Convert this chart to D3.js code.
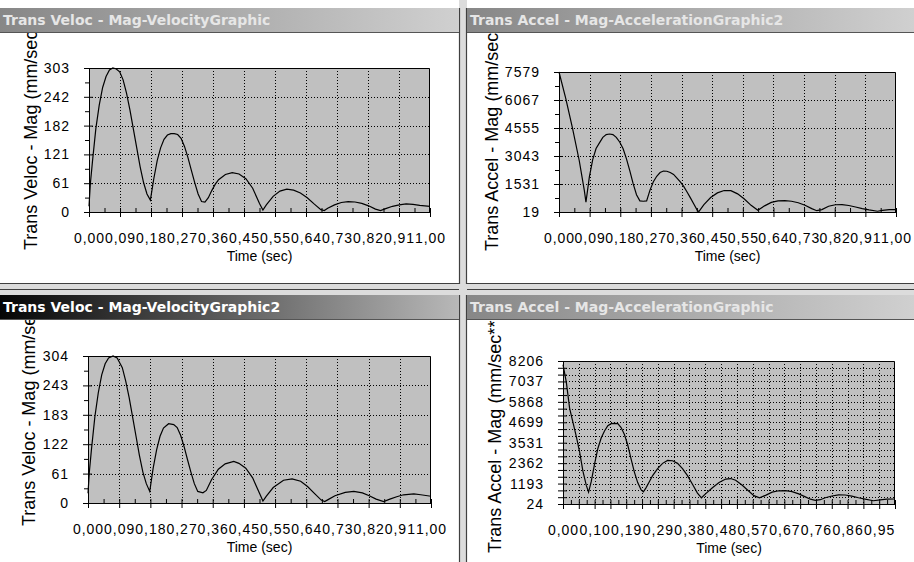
<!DOCTYPE html>
<html>
<head>
<meta charset="utf-8">
<script src="https://cdn.jsdelivr.net/npm/d3@7"></script>
<style>
  body { margin: 0; background: #fff; }
  svg { display: block; }
  .tick text { font-family: "Liberation Sans", Arial, sans-serif; font-size: 14px; letter-spacing: 1px; fill: #000; }
</style>
</head>
<body>
<svg width="914" height="562"></svg>
<script>
// ---- data ----
const xLabels11 = ["0,00","0,09","0,18","0,27","0,36","0,45","0,55","0,64","0,73","0,82","0,91","1,00"];
const xLabels21 = ["0,00","0,10","0,19","0,29","0,38","0,48","0,57","0,67","0,76","0,86","0,95"];

const velo1YLabels = ["0","61","121","182","242","303"];
const velo2YLabels = ["0","61","122","183","243","304"];
const accel2YLabels = ["19","1531","3043","4555","6067","7579"];
const accel1YLabels = ["24","1193","2362","3531","4699","5868","7037","8206"];

// Trans Veloc - Mag-VelocityGraphic
const velo1T = [0,0.004,0.01,0.02,0.03,0.04,0.05,0.06,0.07,0.08,0.09,0.1,0.11,0.12,0.13,0.14,0.15,0.16,0.17,0.18,
  0.19,0.2,0.21,0.22,0.23,0.24,0.25,0.26,0.27,0.28,0.29,0.3,0.31,0.32,0.33,0.34,0.35,0.36,0.37,0.38,0.4,0.42,0.44,0.46,0.48,0.5,0.51,
  0.52,0.54,0.56,0.58,0.6,0.62,0.64,0.66,0.68,0.69,0.7,0.72,0.74,0.76,0.78,0.8,0.82,0.84,0.855,0.87,0.89,0.91,0.93,0.95,0.97,1.0];
const velo1V = [12,60,105,175,225,262,285,299,303,301,295,278,250,215,175,135,95,62,38,25,
  70,108,135,153,162,165,165,163,155,138,115,88,62,38,22,21,30,45,58,68,79,83,80,70,50,18,4,
  15,33,44,48,46,40,30,17,5,3,8,15,20,22,21,18,13,6,3,7,12,15,17,16,14,12];

// Trans Accel - Mag-AccelerationGraphic2
const accel2T = [0,0.02,0.04,0.06,0.075,0.08,0.09,0.1,0.11,0.12,0.13,0.14,0.15,0.16,0.17,0.18,0.19,0.2,0.21,0.22,0.23,0.24,0.25,0.26,
  0.27,0.28,0.29,0.3,0.31,0.32,0.33,0.34,0.35,0.36,0.37,0.38,0.39,0.4,0.41,0.415,0.43,0.45,0.47,0.49,0.51,0.53,0.55,0.57,0.59,
  0.61,0.63,0.65,0.67,0.69,0.71,0.73,0.75,0.765,0.78,0.8,0.82,0.84,0.86,0.88,0.9,0.92,0.945,0.96,0.98,1.0];
const accel2V = [7579,6150,4550,2800,1200,550,1900,2850,3450,3750,4050,4200,4230,4200,4050,3800,3450,2900,2250,1550,950,620,600,620,
  1200,1650,1950,2150,2230,2220,2150,2050,1850,1650,1400,1100,780,450,120,40,420,800,1050,1180,1170,1000,720,380,110,
  350,540,620,630,600,520,380,200,90,150,330,410,420,370,290,200,130,60,110,150,150];

// Trans Veloc - Mag-VelocityGraphic2
const velo2T = [0,0.004,0.01,0.02,0.03,0.04,0.05,0.06,0.073,0.085,0.1,0.11,0.12,0.13,0.14,0.15,0.16,0.17,0.18,
  0.19,0.2,0.21,0.22,0.235,0.25,0.26,0.27,0.28,0.29,0.3,0.31,0.32,0.335,0.345,0.36,0.38,0.4,0.425,0.44,0.46,0.48,0.5,0.51,
  0.52,0.54,0.57,0.595,0.62,0.64,0.66,0.68,0.69,0.7,0.72,0.75,0.775,0.8,0.82,0.84,0.862,0.88,0.9,0.92,0.95,0.97,1.0];
const velo2V = [20,65,110,178,228,265,288,300,304,300,280,252,218,178,138,98,64,40,24,
  72,110,138,155,164,162,156,140,117,90,64,40,24,21,26,48,70,81,86,82,72,52,20,4,
  14,32,47,50,45,34,20,6,3,7,15,22,24,21,15,8,3,8,13,17,19,17,14];

// Trans Accel - Mag-AccelerationGraphic
const accel1T = [0,0.01,0.02,0.03,0.04,0.05,0.06,0.07,0.077,0.085,0.095,0.105,0.115,0.125,0.135,0.145,0.155,0.165,0.175,0.185,0.195,
  0.205,0.215,0.225,0.235,0.242,0.25,0.26,0.27,0.285,0.3,0.315,0.33,0.345,0.36,0.375,0.39,0.405,0.417,0.43,0.45,0.47,0.49,0.505,
  0.52,0.54,0.56,0.575,0.592,0.61,0.63,0.65,0.67,0.69,0.71,0.73,0.745,0.76,0.775,0.79,0.81,0.83,0.85,0.87,0.89,0.91,0.935,0.955,0.975,1.0];
const accel1V = [8000,7000,5500,4700,3900,3000,1900,1100,700,1300,2300,3200,3800,4200,4500,4620,4640,4620,4400,4000,3400,
  2600,1850,1250,850,720,950,1300,1650,2050,2350,2520,2500,2350,2050,1650,1150,650,380,620,950,1250,1450,1480,
  1380,1100,750,500,380,520,700,780,790,730,600,430,300,230,270,380,480,550,540,470,380,300,210,260,300,310];

// ---- page ----
const svg = d3.select("svg");
const defs = svg.append("defs");

function gradient(id, c0, c1) {
  const lg = defs.append("linearGradient").attr("id", id);
  lg.append("stop").attr("offset", "0%").attr("stop-color", c0);
  lg.append("stop").attr("offset", "100%").attr("stop-color", c1);
}
gradient("inactive", "#878787", "#d0d0d0");
gradient("active", "#050505", "#b8b8b8");

// splitter bands
svg.append("rect").attr("x", 459).attr("y", 0).attr("width", 8).attr("height", 562).attr("fill", "#dcdcdc");
svg.append("rect").attr("x", 0).attr("y", 283).attr("width", 914).attr("height", 12).attr("fill", "#dcdcdc");
[[459.5, 8, 459.5, 284], [466.5, 8, 466.5, 284], [459.5, 295, 459.5, 562], [466.5, 295, 466.5, 562]].forEach(l => {
  svg.append("line").attr("x1", l[0]).attr("y1", l[1]).attr("x2", l[2]).attr("y2", l[3])
    .attr("stroke", "#404040").attr("stroke-width", 1.2);
});
[[0, 283.5, 459, 283.5], [467, 283.5, 914, 283.5], [0, 289.5, 459, 289.5], [467, 289.5, 914, 289.5]].forEach(l => {
  svg.append("line").attr("x1", l[0]).attr("y1", l[1]).attr("x2", l[2]).attr("y2", l[3])
    .attr("stroke", "#404040").attr("stroke-width", 1.2);
});

function drawPanel(p) {
  const g = svg.append("g");
  const clipId = "clip" + p.id;
  defs.append("clipPath").attr("id", clipId).append("rect")
    .attr("x", p.left).attr("y", p.barY + 25).attr("width", p.right - p.left).attr("height", p.bottom - p.barY - 25);

  // title bar
  g.append("rect").attr("x", p.left).attr("y", p.barY).attr("width", p.right - p.left).attr("height", 24)
    .attr("fill", p.active ? "url(#active)" : "url(#inactive)");
  g.append("line").attr("x1", p.left).attr("x2", p.right).attr("y1", p.barY + 24.5).attr("y2", p.barY + 24.5)
    .attr("stroke", "#555");
  g.append("text").attr("x", p.left + 3).attr("y", p.barY + 17)
    .attr("font-family", "DejaVu Sans, Verdana, sans-serif").attr("font-weight", "bold").attr("font-size", 14)
    .attr("fill", p.active ? "#fff" : "#e6e6e6").text(p.title);

  const x = d3.scaleLinear().domain([0, 1]).range([p.x0, p.x1]);
  const y = d3.scaleLinear().domain([+p.yLabels[0], +p.yLabels[p.yLabels.length - 1]]).range([p.y1, p.y0]);

  const xMajor = d3.range(p.xDiv + 1).map(i => i / p.xDiv);
  const xMinor = d3.range(p.xDiv).map(i => (i + 0.5) / p.xDiv);
  const yStep = (y.domain()[1] - y.domain()[0]) / p.yDiv;
  const yMajor = d3.range(p.yDiv + 1).map(i => y.domain()[0] + i * yStep);
  const yMinor = p.yMinor ? d3.range(p.yDiv).map(i => y.domain()[0] + (i + 0.5) * yStep) : [];

  // plot background
  g.append("rect").attr("x", p.x0).attr("y", p.y0).attr("width", p.x1 - p.x0).attr("height", p.y1 - p.y0)
    .attr("fill", "#c0c0c0");

  // dotted grid
  g.append("g").selectAll("line").data(xMajor.slice(1, -1)).join("line")
    .attr("x1", d => Math.round(x(d)) + 0.5).attr("x2", d => Math.round(x(d)) + 0.5)
    .attr("y1", p.y0).attr("y2", p.y1)
    .attr("stroke", "#000").attr("stroke-dasharray", "1,2");
  g.append("g").selectAll("line").data(yMajor.slice(1, -1)).join("line")
    .attr("y1", d => Math.round(y(d)) + 0.5).attr("y2", d => Math.round(y(d)) + 0.5)
    .attr("x1", p.x0).attr("x2", p.x1)
    .attr("stroke", "#000").attr("stroke-dasharray", "1,2");

  // frame top/right
  g.append("path").attr("d", `M${p.x0},${p.y0 + 0.5}H${p.x1 - 0.5}V${p.y1}`)
    .attr("fill", "none").attr("stroke", "#000");

  // x axis
  const xAxis = d3.axisBottom(x).tickValues(xMajor).tickSizeOuter(0).tickSize(5).tickPadding(16)
    .tickFormat((d, i) => i % p.xLabelEvery === 0 ? (p.xLabels[i / p.xLabelEvery] || "") : "");
  const gx = g.append("g").attr("transform", `translate(0,${p.y1})`).call(xAxis);
  gx.selectAll(".tick line").attr("y1", -4).attr("y2", 5);
  const xMinorAxis = d3.axisBottom(x).tickValues(xMinor).tickSize(-4).tickSizeOuter(0).tickFormat("");
  g.append("g").attr("transform", `translate(0,${p.y1})`).call(xMinorAxis).select(".domain").remove();

  // y axis
  const yAxis = d3.axisLeft(y).tickValues(yMajor).tickSizeOuter(0).tickSize(5).tickPadding(14)
    .tickFormat((d, i) => i % p.yLabelEvery === 0 ? p.yLabels[i / p.yLabelEvery] : "");
  const gy = g.append("g").attr("transform", `translate(${p.x0},0)`).call(yAxis);
  gy.selectAll(".tick line").attr("x1", 4).attr("x2", -5);
  if (yMinor.length) {
    const yMinorAxis = d3.axisLeft(y).tickValues(yMinor).tickSize(4).tickSizeOuter(0).tickFormat("");
    g.append("g").attr("transform", `translate(${p.x0},0)`).call(yMinorAxis).select(".domain").remove();
  }
  g.selectAll(".domain").attr("stroke", "#000");

  // curve
  const line = d3.line().x((d, i) => x(p.t[i])).y(d => y(d));
  g.append("path").datum(p.v).attr("d", line)
    .attr("fill", "none").attr("stroke", "#000").attr("stroke-width", 1.2);

  // axis titles
  g.append("text").attr("x", (p.x0 + p.x1) / 2).attr("y", p.y1 + 49)
    .attr("text-anchor", "middle").attr("font-family", "Liberation Sans, Arial, sans-serif")
    .attr("font-size", 14).text("Time (sec)");
  g.append("g").attr("clip-path", `url(#${clipId})`)
    .append("text").attr("transform", `translate(${p.yTitleX},${p.yTitleY}) rotate(-90)`)
    .attr("font-family", "Liberation Sans, Arial, sans-serif").attr("font-size", 18)
    .text(p.yTitle);
}

drawPanel({ id: 1, title: "Trans Veloc - Mag-VelocityGraphic", active: false,
  left: 0, right: 459, barY: 8, bottom: 283,
  x0: 89, x1: 430, y0: 68, y1: 212, xDiv: 11, xLabelEvery: 1, xLabels: xLabels11,
  yDiv: 5, yLabelEvery: 1, yLabels: velo1YLabels, yMinor: true,
  t: velo1T, v: velo1V, yTitle: "Trans Veloc - Mag (mm/sec)", yTitleX: 37, yTitleY: 250 });

drawPanel({ id: 2, title: "Trans Accel - Mag-AccelerationGraphic2", active: false,
  left: 467, right: 914, barY: 8, bottom: 283,
  x0: 559, x1: 896, y0: 72, y1: 212, xDiv: 11, xLabelEvery: 1, xLabels: xLabels11,
  yDiv: 5, yLabelEvery: 1, yLabels: accel2YLabels, yMinor: true,
  t: accel2T, v: accel2V, yTitle: "Trans Accel - Mag (mm/sec**2)", yTitleX: 498, yTitleY: 251 });

drawPanel({ id: 3, title: "Trans Veloc - Mag-VelocityGraphic2", active: true,
  left: 0, right: 459, barY: 295, bottom: 562,
  x0: 88, x1: 431, y0: 356, y1: 503, xDiv: 11, xLabelEvery: 1, xLabels: xLabels11,
  yDiv: 5, yLabelEvery: 1, yLabels: velo2YLabels, yMinor: true,
  t: velo2T, v: velo2V, yTitle: "Trans Veloc - Mag (mm/sec)", yTitleX: 35, yTitleY: 526 });

drawPanel({ id: 4, title: "Trans Accel - Mag-AccelerationGraphic", active: false,
  left: 467, right: 914, barY: 295, bottom: 562,
  x0: 563, x1: 895, y0: 361, y1: 504, xDiv: 21, xLabelEvery: 2, xLabels: xLabels21,
  yDiv: 21, yLabelEvery: 3, yLabels: accel1YLabels, yMinor: false,
  t: accel1T, v: accel1V, yTitle: "Trans Accel - Mag (mm/sec**2)", yTitleX: 501, yTitleY: 553 });
</script>
</body>
</html>
